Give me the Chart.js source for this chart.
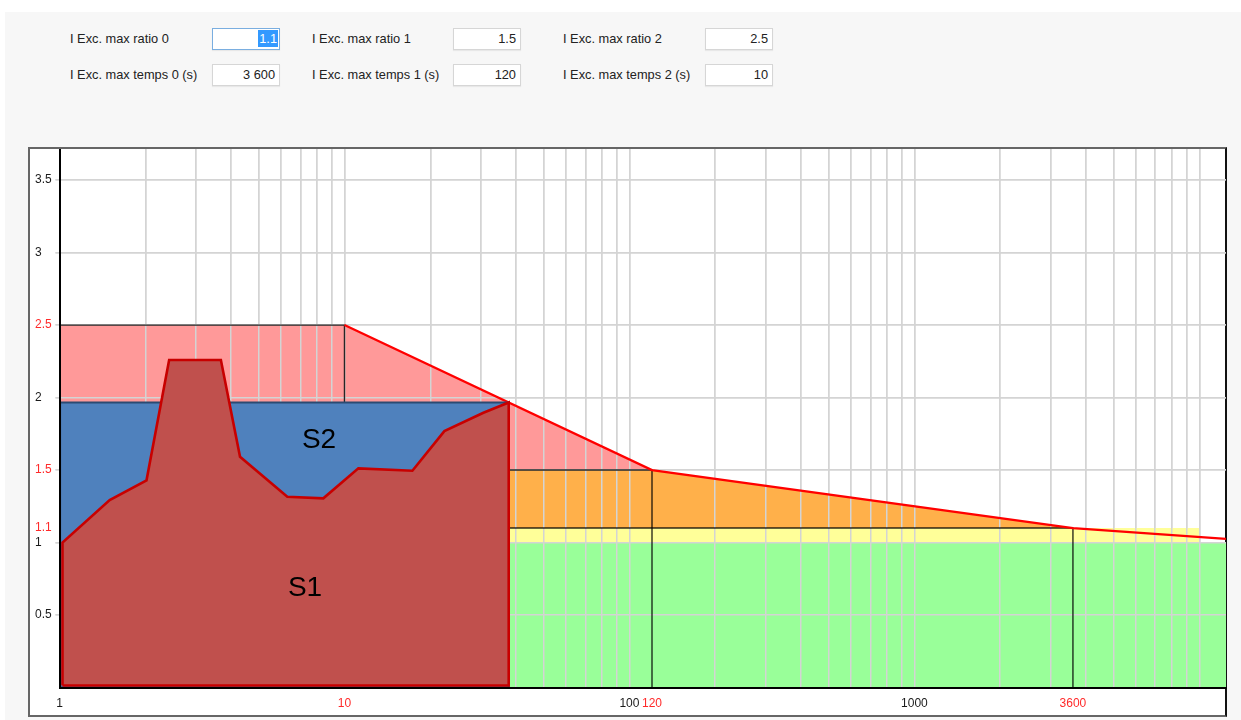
<!DOCTYPE html>
<html>
<head>
<meta charset="utf-8">
<script src="https://cdn.jsdelivr.net/npm/chart.js@4/dist/chart.umd.min.js"></script>
<style>
  html, body { margin: 0; padding: 0; width: 1241px; height: 720px; overflow: hidden; background: #fff;
    font-family: "Liberation Sans", Arial, sans-serif; }
  #panel { position: absolute; left: 5px; top: 12px; width: 1236px; height: 708px; background: #f7f7f7; }
  .lbl { position: absolute; font-size: 12.8px; line-height: 14px; color: #222; white-space: nowrap; }
  .inp { position: absolute; width: 66px; height: 20px; background: #fff; border: 1px solid #d6d6d6;
    box-shadow: 0 1px 1px rgba(0,0,0,0.06); font-size: 12.8px; line-height: 20px; text-align: right; color: #222; }
  .inp span { margin-right: 4px; }
  .inp.focus { border-color: #7aaee0; }
  .inp .sel { background: #3399ff; color: #fff; margin-right: 1px; padding: 1px 1px; }
  #box { position: absolute; left: 28px; top: 147px; width: 1195px; height: 566px; background: #fff;
    border: 2px solid #666; border-right-color: #111; }
  #chart { position: absolute; left: 28px; top: 149px; }
</style>
</head>
<body>
<div id="panel"></div>

<div class="lbl" style="left:70px;top:32px">I Exc. max ratio 0</div>
<div class="inp focus" style="left:212px;top:28px"><span class="sel">1.1</span></div>
<div class="lbl" style="left:312px;top:32px">I Exc. max ratio 1</div>
<div class="inp" style="left:453px;top:28px"><span>1.5</span></div>
<div class="lbl" style="left:563px;top:32px">I Exc. max ratio 2</div>
<div class="inp" style="left:705px;top:28px"><span>2.5</span></div>

<div class="lbl" style="left:70px;top:68px">I Exc. max temps 0 (s)</div>
<div class="inp" style="left:212px;top:64px"><span>3 600</span></div>
<div class="lbl" style="left:312px;top:68px">I Exc. max temps 1 (s)</div>
<div class="inp" style="left:453px;top:64px"><span>120</span></div>
<div class="lbl" style="left:563px;top:68px">I Exc. max temps 2 (s)</div>
<div class="inp" style="left:705px;top:64px"><span>10</span></div>

<div id="box"></div>
<canvas id="chart" width="1199" height="568"></canvas>

<script>
// Thresholds: ratio levels and their allowed durations (s)
const ratioLevels = [1.1, 1.5, 2.5];
const timeLevels = [3600, 120, 10];

// Axis ticks
const yTicks = [0.5, 1, 1.1, 1.5, 2, 2.5, 3, 3.5];
const yRedTicks = [1.1, 1.5, 2.5];
const xGridTicks = [1, 2, 3, 4, 5, 6, 7, 8, 9,
  10, 20, 30, 40, 50, 60, 70, 80, 90,
  100, 200, 300, 400, 500, 600, 700, 800, 900,
  1000, 2000, 3000, 4000, 5000, 6000, 7000, 8000, 9000, 10000];
const xLabelTicks = [1, 10, 100, 120, 1000, 3600];
const xRedTicks = [10, 120, 3600];

// Limit curve (ratio vs time)
const limitX = [10, 120, 3600, 12400];
const limitY = [2.5, 1.5, 1.1, 1.026];

// Zones
const pinkX = [1, 1, 10, 120, 120];
const pinkY = [0, 2.5, 2.5, 1.5, 0];
const orangeX = [37.7, 37.7, 120, 3600, 3600];
const orangeY = [0, 1.5, 1.5, 1.1, 0];
const yellowX = [37.7, 37.7, 10000, 10000];
const yellowY = [0, 1.1, 1.1, 0];
const greenX = [37.7, 37.7, 12400, 12400];
const greenY = [0, 1, 1, 0];

// Zone edges
const edge2X = [1, 10, 10];
const edge2Y = [2.5, 2.5, 1.966];
const edge1X = [37.7, 120, 120];
const edge1Y = [1.5, 1.5, 0];
const edge0X = [37.7, 3600, 3600];
const edge0Y = [1.1, 1.1, 0];

// S1 measured profile (closed outline)
const s1X = [1.0245, 1.0245, 1.50, 2.02, 2.425, 3.684, 4.30, 6.30, 8.43, 11.19, 17.31, 22.42, 30.73, 37.7, 37.7, 1.0245];
const s1Y = [0.014, 1.0, 1.293, 1.429, 2.259, 2.259, 1.592, 1.316, 1.305, 1.512, 1.495, 1.769, 1.895, 1.966, 0.014, 0.014];

// S2 envelope (closed outline)
const s2X = [1.004, 1.004, 37.7, 37.7, 1.004];
const s2Y = [0, 1.966, 1.966, 0, 0];

// Area captions
const areaLabels = [
  { text: 'S1', x: 7.27, y: 0.686 },
  { text: 'S2', x: 8.14, y: 1.707 }
];

const pts = (xs, ys) => xs.map((x, i) => ({ x: x, y: ys[i] }));

const FONT = '"Liberation Sans", Arial, sans-serif';

function zone(xs, ys, color) {
  return { data: pts(xs, ys), fill: 'shape', backgroundColor: color,
    borderColor: 'transparent', borderWidth: 0, pointRadius: 0, tension: 0 };
}
function edge(xs, ys) {
  return { data: pts(xs, ys), fill: false, borderColor: 'rgba(0,0,0,0.82)', borderWidth: 1.4,
    pointRadius: 0, tension: 0, borderCapStyle: 'butt' };
}

const datasets = [
  { data: pts(s1X, s1Y), fill: 'shape', backgroundColor: 'rgb(192,80,77)', borderColor: '#c80000',
    borderWidth: 2.6, pointRadius: 0, tension: 0, borderJoinStyle: 'miter' },
  { data: pts(s2X, s2Y), fill: 'shape', backgroundColor: 'rgb(79,129,189)', borderColor: '#2c4a72',
    borderWidth: 2.2, pointRadius: 0, tension: 0 },
  { data: pts(limitX, limitY), fill: false, borderColor: '#ff0000', borderWidth: 2.2, pointRadius: 0, tension: 0 },
  edge(edge2X, edge2Y),
  edge(edge1X, edge1Y),
  edge(edge0X, edge0Y),
  zone(greenX, greenY, 'rgb(153,255,153)'),
  zone(yellowX, yellowY, 'rgb(255,255,153)'),
  zone(orangeX, orangeY, 'rgb(255,176,74)'),
  zone(pinkX, pinkY, 'rgb(255,153,153)')
];
const LAST_ZONE = 6;

const layers = {
  id: 'layers',
  afterDatasetDraw(chart, args) {
    if (args.index === LAST_ZONE) {
      chart.scales.x.drawGrid(chart.chartArea);
      chart.scales.y.drawGrid(chart.chartArea);
    }
  },
  afterDatasetsDraw(chart) {
    const { ctx, scales } = chart;
    if (scales.x.drawBorder) { scales.x.drawBorder(); scales.y.drawBorder(); }
    ctx.save();
    ctx.fillStyle = '#000';
    ctx.font = '28px ' + FONT;
    ctx.textAlign = 'center';
    ctx.textBaseline = 'middle';
    areaLabels.forEach(l => {
      ctx.fillText(l.text, scales.x.getPixelForValue(l.x), scales.y.getPixelForValue(l.y));
    });
    ctx.restore();
  }
};

const gridGrey = 'rgb(212,212,212)';

new Chart(document.getElementById('chart'), {
  type: 'line',
  data: { datasets: datasets },
  options: {
    responsive: false,
    animation: false,
    events: [],
    devicePixelRatio: 1,
    layout: { padding: { left: 7, right: 1, top: 0, bottom: 0 } },
    plugins: { legend: { display: false }, tooltip: { enabled: false } },
    scales: {
      x: {
        type: 'logarithmic',
        min: 1,
        max: 12400,
        afterBuildTicks: (s) => {
          const all = Array.from(new Set(xGridTicks.concat(xLabelTicks))).sort((a, b) => a - b);
          s.ticks = all.map(v => ({ value: v }));
        },
        afterFit: (s) => { s.height = 29.5; s.paddingLeft = 0; s.paddingRight = 0; },
        grid: {
          drawTicks: false,
          lineWidth: 1.5,
          color: (c) => (c.tick && (c.tick.value === 120 || c.tick.value === 3600)) ? 'rgba(0,0,0,0)' : gridGrey
        },
        border: { display: true, color: '#000', width: 2 },
        ticks: {
          autoSkip: false,
          maxRotation: 0,
          minRotation: 0,
          padding: 9,
          font: { family: FONT, size: 12 },
          color: (c) => xRedTicks.includes(c.tick.value) ? '#ff2a2a' : '#1a1a1a',
          callback: (v) => xLabelTicks.includes(v) ? String(v) : ''
        }
      },
      y: {
        type: 'linear',
        min: 0,
        max: 3.715,
        afterBuildTicks: (s) => { s.ticks = yTicks.map(v => ({ value: v })); },
        afterFit: (s) => { s.width = 24.5; s.paddingTop = 0; s.paddingBottom = 0; },
        grid: {
          drawTicks: true,
          tickLength: 4,
          lineWidth: 1.5,
          color: (c) => (c.tick && c.tick.value === 1.1) ? 'rgba(0,0,0,0)' : gridGrey
        },
        border: { display: true, color: '#000', width: 2 },
        ticks: {
          crossAlign: 'far',
          padding: 3,
          font: { family: FONT, size: 12 },
          color: (c) => yRedTicks.includes(c.tick.value) ? '#ff2a2a' : '#1a1a1a',
          callback: (v) => String(v)
        }
      }
    }
  },
  plugins: [layers]
});
</script>
</body>
</html>
